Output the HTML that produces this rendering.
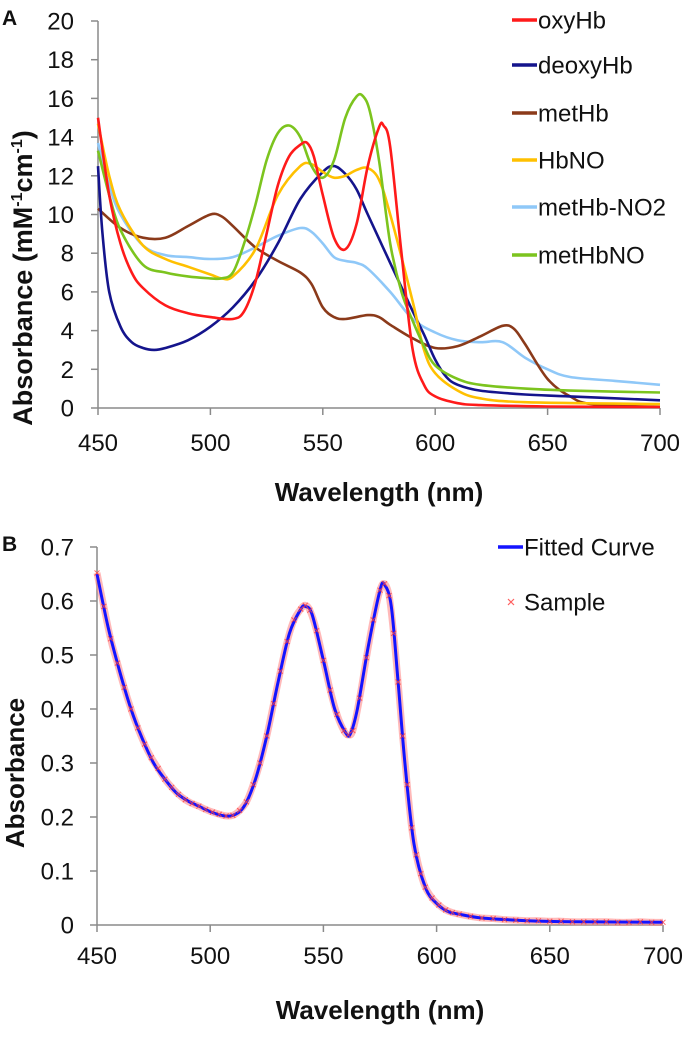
<!DOCTYPE html>
<html><head><meta charset="utf-8"><style>
body{margin:0;background:#fff;}
svg text{font-family:"Liberation Sans",Arial,sans-serif;fill:#111;}
</style></head><body>
<svg id="c" width="697" height="1050" xmlns="http://www.w3.org/2000/svg">
<text x="2" y="25" font-size="21" font-weight="bold">A</text>
<text x="2" y="551" font-size="21" font-weight="bold">B</text>
<g id="ga"></g>
<g id="gb"></g>
</svg>
<script>
const xTicks=[450,500,550,600,650,700];
const yTicksA=[0,2,4,6,8,10,12,14,16,18,20];
const yTicksB=[0,0.1,0.2,0.3,0.4,0.5,0.6,0.7];
const seriesNames=["oxyHb","deoxyHb","metHb","HbNO","metHb-NO2","metHbNO"];
const seriesColors=["#ff1a1a","#14148c","#8b3a1a","#ffc000","#8fc8f8","#7cc41e"];
const oxyHb=[[450,15],[455,11],[460,8.5],[465,7],[470,6.2],[480,5.3],[490,4.9],[500,4.7],[510,4.6],[515,5.0],[520,6.5],[525,9],[530,11.5],[535,13],[540,13.6],[543,13.7],[546,13],[550,11],[555,8.8],[560,8.2],[565,9.5],[570,12.5],[575,14.5],[577,14.6],[580,13.5],[585,8],[590,3],[595,1.2],[600,0.6],[610,0.25],[620,0.15],[650,0.08],[700,0.05]];
const deoxyHb=[[450,12.5],[452,9],[455,6],[460,4.2],[465,3.4],[470,3.1],[475,3.0],[480,3.1],[490,3.5],[500,4.2],[510,5.2],[520,6.6],[530,8.5],[540,10.8],[550,12.2],[555,12.5],[560,12.1],[565,11.3],[570,10],[580,7.5],[590,5],[595,3.8],[600,2.5],[605,1.6],[610,1.2],[620,0.9],[640,0.7],[660,0.6],[700,0.4]];
const metHb=[[450,10.3],[460,9.3],[470,8.8],[480,8.8],[490,9.4],[500,10],[505,9.9],[510,9.4],[520,8.3],[530,7.6],[540,7.0],[545,6.4],[550,5.2],[555,4.7],[560,4.6],[570,4.8],[575,4.7],[580,4.3],[590,3.6],[600,3.1],[610,3.2],[620,3.7],[630,4.25],[635,4.1],[640,3.3],[650,1.5],[660,0.6],[670,0.2],[700,0.05]];
const HbNO=[[450,14.7],[455,12],[460,10.2],[470,8.4],[480,7.7],[490,7.3],[500,6.9],[505,6.7],[510,6.8],[520,8.2],[530,11],[540,12.5],[545,12.6],[550,12.2],[555,11.9],[560,12],[565,12.3],[570,12.4],[575,11.8],[580,10],[590,5.5],[595,3],[600,1.8],[610,0.9],[620,0.5],[640,0.3],[700,0.2]];
const metHbNO2=[[450,13.7],[455,11.5],[460,10],[470,8.4],[480,7.9],[490,7.8],[500,7.7],[510,7.8],[520,8.3],[530,8.9],[540,9.3],[545,9.1],[550,8.5],[555,7.8],[560,7.6],[565,7.5],[570,7.2],[580,6],[590,4.6],[600,3.9],[610,3.5],[620,3.4],[630,3.4],[640,2.6],[650,2.0],[660,1.6],[680,1.4],[700,1.2]];
const metHbNO=[[450,13.3],[455,11],[460,9.2],[470,7.4],[480,7.0],[490,6.8],[500,6.7],[505,6.7],[510,7.0],[515,8.5],[520,10.5],[525,12.8],[530,14.2],[535,14.6],[540,14],[545,12.5],[550,11.9],[555,12.8],[560,15],[565,16.1],[568,16.1],[571,15.3],[575,12.8],[580,8.5],[585,6],[590,4.5],[595,3.2],[600,2.2],[610,1.5],[620,1.2],[640,1.0],[660,0.9],[700,0.8]];
const fitted=[[450,0.65],[455,0.55],[460,0.47],[465,0.40],[470,0.345],[475,0.30],[480,0.27],[485,0.245],[490,0.23],[495,0.22],[500,0.21],[505,0.203],[510,0.203],[515,0.22],[520,0.27],[525,0.35],[530,0.45],[535,0.54],[540,0.585],[542,0.59],[545,0.575],[550,0.49],[555,0.40],[560,0.355],[562,0.355],[565,0.40],[570,0.52],[575,0.62],[577,0.63],[580,0.59],[583,0.45],[586,0.30],[590,0.15],[595,0.07],[600,0.04],[605,0.025],[610,0.02],[620,0.013],[640,0.008],[660,0.006],[700,0.005]];
const sample=[[450,0.652],[453,0.59],[456,0.53],[459,0.485],[462,0.44],[465,0.40],[468,0.365],[471,0.335],[474,0.31],[477,0.29],[480,0.27],[483,0.255],[486,0.242],[489,0.232],[492,0.225],[495,0.22],[498,0.214],[501,0.209],[504,0.205],[507,0.202],[510,0.203],[513,0.212],[516,0.228],[519,0.26],[522,0.3],[525,0.35],[528,0.41],[531,0.47],[534,0.525],[537,0.565],[540,0.585],[542,0.592],[544,0.583],[547,0.545],[550,0.49],[553,0.435],[556,0.39],[559,0.36],[561,0.352],[563,0.36],[566,0.42],[569,0.495],[572,0.565],[575,0.62],[577,0.632],[579,0.61],[581,0.54],[583,0.45],[585,0.35],[587,0.26],[589,0.18],[591,0.13],[593,0.095],[595,0.07],[598,0.05],[601,0.037],[604,0.028],[607,0.023],[610,0.02],[615,0.016],[620,0.013],[625,0.012],[630,0.01],[635,0.009],[640,0.008],[645,0.008],[650,0.007],[655,0.007],[660,0.006],[665,0.006],[670,0.006],[675,0.006],[680,0.005],[685,0.005],[690,0.006],[695,0.005],[700,0.005]];

const NS="http://www.w3.org/2000/svg";
function mk(p,t,a){const e=document.createElementNS(NS,t);for(const k in a)e.setAttribute(k,a[k]);p.appendChild(e);return e;}
function smooth(pts){let d="M"+pts[0][0]+","+pts[0][1];for(let i=0;i<pts.length-1;i++){const p0=pts[i-1]||pts[i],p1=pts[i],p2=pts[i+1],p3=pts[i+2]||p2;const c1x=p1[0]+(p2[0]-p0[0])/6,c1y=p1[1]+(p2[1]-p0[1])/6,c2x=p2[0]-(p3[0]-p1[0])/6,c2y=p2[1]-(p3[1]-p1[1])/6;d+=" C"+c1x.toFixed(1)+","+c1y.toFixed(1)+" "+c2x.toFixed(1)+","+c2y.toFixed(1)+" "+p2[0].toFixed(1)+","+p2[1].toFixed(1);}return d;}

function axes(g,X,Y,yTicks,dec,x0,x1,yTop,yBot,labY,titY){
  mk(g,"line",{x1:x0,y1:yTop,x2:x0,y2:yBot,stroke:"#8a8a8a","stroke-width":1.5});
  mk(g,"line",{x1:x0,y1:yBot,x2:x1,y2:yBot,stroke:"#8a8a8a","stroke-width":1.5});
  yTicks.forEach(v=>{const y=Y(v);
    const t=mk(g,"line",{x1:x0-7,y1:y,x2:x0,y2:y,stroke:"#8a8a8a","stroke-width":1.5});
    
    
    const l=mk(g,"text",{x:74,y:y+8.5,"font-size":24,"text-anchor":"end"});
    l.textContent=(v===0)?"0":(dec?v.toFixed(1):String(v));
    
    });
  xTicks.forEach(v=>{const x=X(v);
    const t=mk(g,"line",{x1:x,y1:yBot,x2:x,y2:yBot+7,stroke:"#8a8a8a","stroke-width":1.5});
    
    
    const l=mk(g,"text",{x:x,y:labY,"font-size":24,"text-anchor":"middle"});l.textContent=v;
    
    });
  const xt=mk(g,"text",{x:(x0+x1)/2,y:titY,"font-size":26,"font-weight":"bold","text-anchor":"middle"});xt.textContent="Wavelength (nm)";
  
  
}

// Panel A
const ga=document.getElementById("ga");
const XA=v=>98+(v-450)*(562/250), YA=v=>408-v*(387/20);
axes(ga,XA,YA,yTicksA,false,98,660,21,408,451,501);
const yta=mk(ga,"text",{transform:"translate(32,278) rotate(-90)","font-size":27,"font-weight":"bold","text-anchor":"middle"});
yta.innerHTML='Absorbance (mM<tspan font-size="16" dy="-10">-1</tspan><tspan dy="10">cm</tspan><tspan font-size="16" dy="-10">-1</tspan><tspan dy="10">)</tspan>';


const seriesData=[oxyHb,deoxyHb,metHb,HbNO,metHbNO2,metHbNO];
const drawOrder=[4,2,1,3,5,0];
drawOrder.forEach(i=>{const p=mk(ga,"path",{d:smooth(seriesData[i].map(d=>[XA(d[0]),YA(d[1])])),fill:"none",stroke:seriesColors[i],"stroke-width":2.6,"stroke-linejoin":"round"});
  
  });
const legYs=[20,65,113,160,207,255];
seriesNames.forEach((n,i)=>{
  const l=mk(ga,"line",{x1:512,y1:legYs[i],x2:537,y2:legYs[i],stroke:seriesColors[i],"stroke-width":3.5});
  
  
  const t=mk(ga,"text",{x:538,y:legYs[i]+8.5,"font-size":24});t.textContent=n;
  
  });

// Panel B
const gb=document.getElementById("gb");
const XB=v=>97+(v-450)*(566/250), YB=v=>925-v*(378/0.7);
axes(gb,XB,YB,yTicksB,true,97,663,547,925,964,1019);
const ytb=mk(gb,"text",{transform:"translate(24,773) rotate(-90)","font-size":26,"font-weight":"bold","text-anchor":"middle"});ytb.textContent="Absorbance";


const halo=mk(gb,"path",{d:smooth(sample.map(d=>[XB(d[0]),YB(d[1])])),fill:"none",stroke:"#ff8a8a","stroke-width":7,opacity:0.6});


const fl=mk(gb,"path",{d:smooth(fitted.map(d=>[XB(d[0]),YB(d[1])])),fill:"none",stroke:"#1414ff","stroke-width":3});


sample.forEach(d=>{const x=XB(d[0]),y=YB(d[1]);
  const m=mk(gb,"path",{d:`M${x-2.5},${y-2.5}L${x+2.5},${y+2.5}M${x-2.5},${y+2.5}L${x+2.5},${y-2.5}`,stroke:"#ff4040","stroke-width":1,opacity:0.8});
  
  });
const l1=mk(gb,"line",{x1:498,y1:547,x2:523,y2:547,stroke:"#1414ff","stroke-width":3.5});


const t1=mk(gb,"text",{x:524,y:555.5,"font-size":24});t1.textContent="Fitted Curve";


const mx=511,my=602;
const lm=mk(gb,"path",{d:`M${mx-3},${my-3}L${mx+3},${my+3}M${mx-3},${my+3}L${mx+3},${my-3}`,stroke:"#ff6060","stroke-width":1.2});


const t2=mk(gb,"text",{x:524,y:610.5,"font-size":24});t2.textContent="Sample";


</script>
</body></html>
